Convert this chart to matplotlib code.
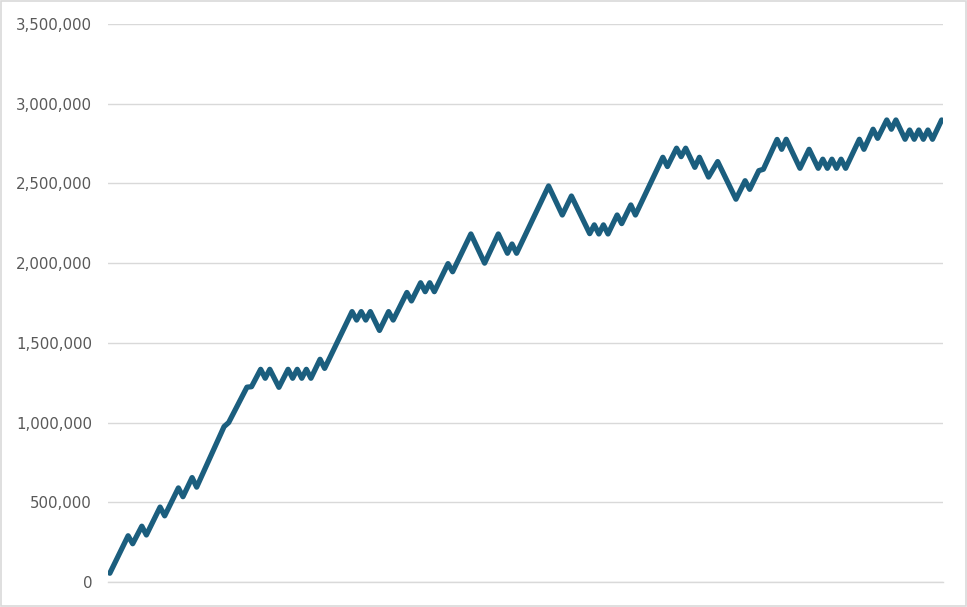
import matplotlib
matplotlib.use("Agg")
import matplotlib.pyplot as plt
from matplotlib.patches import Rectangle
from matplotlib.ticker import FuncFormatter

# turning points of the line (period index, value)
period = [0, 4, 5, 7, 8, 11, 12, 15, 16, 18, 19, 25, 26, 30, 31,
          33, 34, 35, 37, 39, 40, 41, 42, 43, 44, 46, 47,
          53, 54, 55, 56, 57, 59, 61, 62, 65, 66, 68, 69, 70, 71,
          74, 75, 79, 82, 85, 87, 88, 89, 96, 99, 101,
          105, 106, 107, 108, 109, 111, 112, 114, 115,
          121, 122, 124, 125, 126, 128, 129, 131, 133, 137, 139, 140,
          142, 143, 146, 147, 148, 151, 153, 155, 156, 157, 158, 159,
          160, 161, 164, 165, 167, 168, 170, 171, 172, 174, 175, 176,
          177, 178, 179, 180, 182]
value = [55000, 290000, 240000, 350000, 295000, 470000, 415000, 590000, 535000, 655000, 595000, 975000, 1000000, 1222000, 1225000,
         1334000, 1278000, 1334000, 1221000, 1334000, 1278000, 1334000, 1278000, 1334000, 1278000, 1397000, 1340000,
         1696000, 1643000, 1696000, 1643000, 1696000, 1578000, 1696000, 1643000, 1816000, 1763000, 1877000, 1821000, 1877000, 1821000,
         1997000, 1946000, 2183000, 2000000, 2183000, 2062000, 2120000, 2062000, 2484000, 2302000, 2421000,
         2185000, 2240000, 2183000, 2240000, 2183000, 2302000, 2248000, 2365000, 2302000,
         2664000, 2606000, 2721000, 2668000, 2721000, 2601000, 2664000, 2540000, 2637000, 2401000, 2517000, 2463000,
         2580000, 2589000, 2776000, 2714000, 2777000, 2595000, 2714000, 2595000, 2652000, 2595000, 2652000, 2595000,
         2652000, 2595000, 2777000, 2714000, 2840000, 2783000, 2898000, 2840000, 2898000, 2777000, 2835000, 2777000,
         2835000, 2777000, 2835000, 2777000, 2898000]

y_ticks = [0, 500000, 1000000, 1500000, 2000000, 2500000, 3000000, 3500000]

fig = plt.figure(figsize=(9.67, 6.07), dpi=100)
ax = fig.add_axes([108 / 967, 1 - 582 / 607, (943 - 108) / 967, (582 - 24) / 607])

ax.plot(period, value, color="#1b5e7e", linewidth=3.8,
        solid_joinstyle="round", solid_capstyle="round", zorder=3)

ax.set_xlim(-0.4, 182.3)
ax.set_ylim(0, 3500000)
ax.set_yticks(y_ticks)
ax.yaxis.set_major_formatter(FuncFormatter(lambda v, p: f"{int(v):,}"))
ax.set_xticks([])
ax.grid(axis="y", color="#d9d9d9", linewidth=1.0)
ax.set_axisbelow(True)
for s in ax.spines.values():
    s.set_visible(False)
# category axis line at zero
ax.spines["bottom"].set_visible(True)
ax.spines["bottom"].set_color("#d9d9d9")
ax.spines["bottom"].set_linewidth(1.0)
ax.tick_params(axis="y", length=0, pad=11.5, labelsize=10.8, labelcolor="#595959")

# chart border
fig.patches.append(Rectangle((0.001, 0.001), 0.998, 0.998, transform=fig.transFigure,
                             fill=False, edgecolor="#d9d9d9", linewidth=1.2))

fig.savefig("out.png", dpi=100)
